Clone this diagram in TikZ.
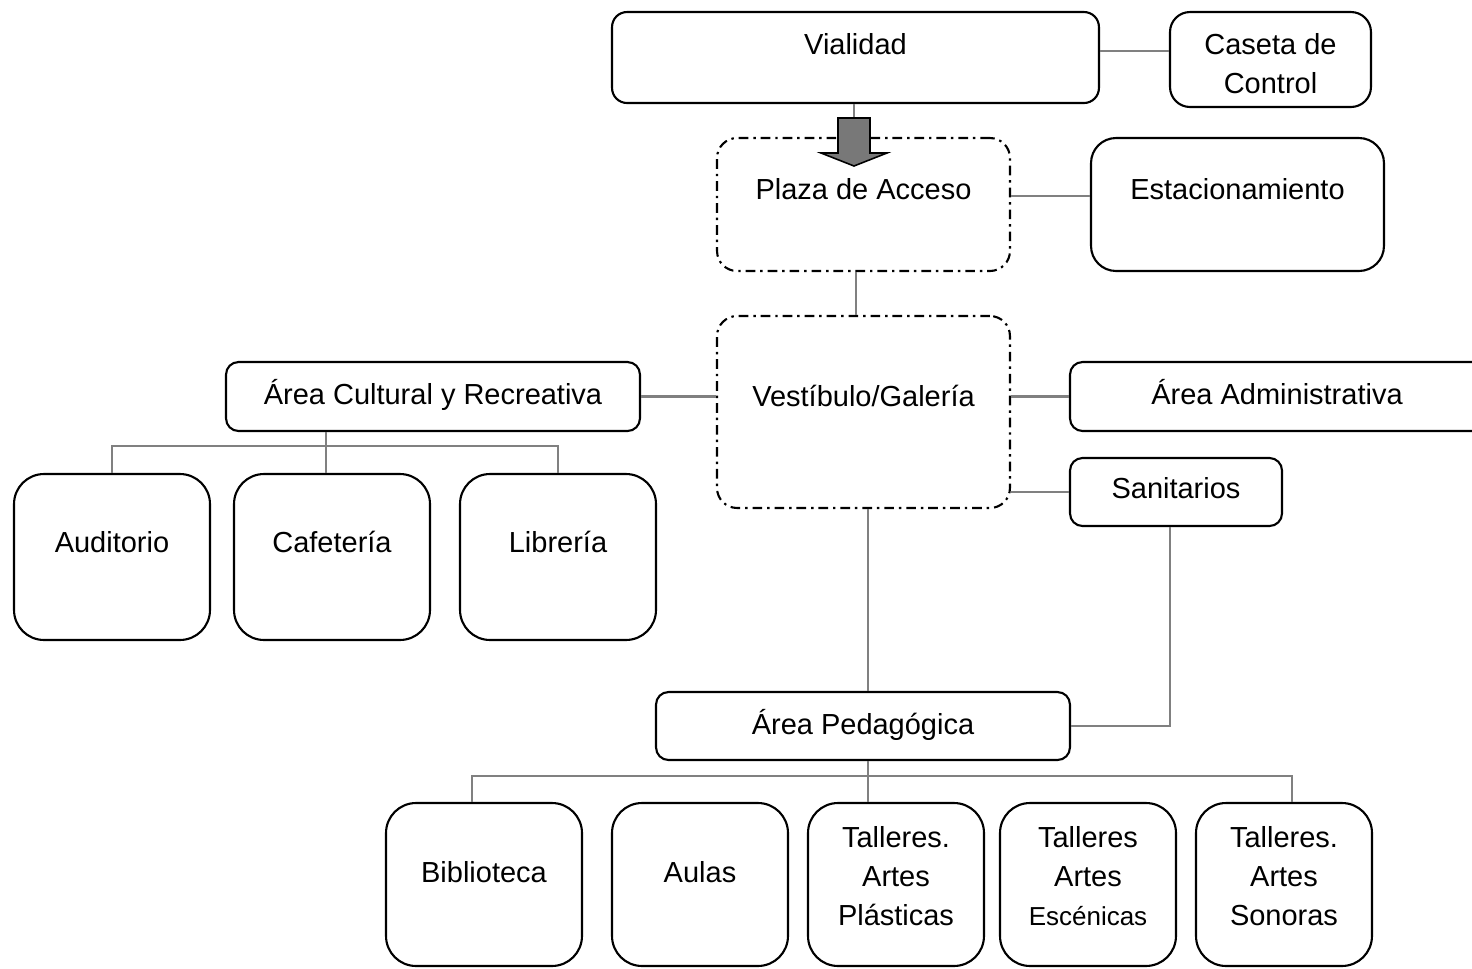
\documentclass[tikz,border=0pt]{standalone}
\usepackage{fontspec}
\setmainfont{Liberation Sans}
\usepackage{tikz}
\usetikzlibrary{calc}
\usepackage{xcolor}
\definecolor{linkgray}{RGB}{128,128,128}
\definecolor{arrowgray}{RGB}{120,120,120}
\newcommand{\padlow}{\rule[-9.8pt]{0pt}{9.8pt}}
\newcommand{\padhigh}{\rule{0pt}{16.3pt}}

\begin{document}
\begin{tikzpicture}[x=0.02cm,y=-0.02cm,
    font=\fontsize{16.5}{22}\selectfont,
    box/.style={draw,line width=1.2pt,rounded corners=#1,align=center,inner sep=2pt},
    zone/.style={box=#1,dash pattern=on 5.5pt off 2.8pt on 1.4pt off 2.8pt},
    lift/.style={text height=12pt,text depth=#1},
    link/.style={draw=linkgray,line width=1.2pt}]
    \useasboundingbox (0,0) rectangle (1472,968);
    \clip (0,0) rectangle (1472,968);
    % access row
    \node[box=0.3cm,lift=15.9pt,minimum width=9.74cm,minimum height=1.82cm] (via) at (855.5,57.5) {Vialidad};
    \node[box=0.4cm,minimum width=4.02cm,minimum height=1.9cm] (cas) at (1270.5,59.5) {\padhigh Caseta de\\Control};
    \node[zone=0.4cm,lift=18.2pt,minimum width=5.86cm,minimum height=2.66cm] (pla) at (863.5,204.5) {Plaza de Acceso};
    \node[box=0.5cm,lift=18.2pt,minimum width=5.86cm,minimum height=2.66cm] (est) at (1237.5,204.5) {Estacionamiento};
    % center
    \node[zone=0.4cm,lift=18.7pt,minimum width=5.86cm,minimum height=3.84cm] (ves) at (863.5,412) {Vestíbulo/Galería};
    \node[box=0.25cm,lift=3.4pt,minimum width=8.28cm,minimum height=1.38cm] (cul) at (433,396.5) {Área Cultural y Recreativa};
    \node[box=0.25cm,lift=3.4pt,minimum width=8.28cm,minimum height=1.38cm] (adm) at (1277,396.5) {Área Administrativa};
    \node[box=0.25cm,lift=5.1pt,minimum width=4.24cm,minimum height=1.36cm] (san) at (1176,492) {Sanitarios};
    % cultural area
    \node[box=0.6cm,lift=17.6pt,minimum width=3.92cm,minimum height=3.32cm] (aud) at (112,557) {Auditorio};
    \node[box=0.6cm,lift=17.6pt,minimum width=3.92cm,minimum height=3.32cm] (caf) at (332,557) {Cafetería};
    \node[box=0.6cm,lift=17.6pt,minimum width=3.92cm,minimum height=3.32cm] (lib) at (558,557) {Librería};
    % pedagogical area
    \node[box=0.25cm,lift=2.9pt,minimum width=8.28cm,minimum height=1.36cm] (ped) at (863,726) {Área Pedagógica};
    \node[box=0.6cm,lift=14.8pt,minimum width=3.92cm,minimum height=3.26cm] (bib) at (484,884.5) {Biblioteca};
    \node[box=0.6cm,lift=14.8pt,minimum width=3.52cm,minimum height=3.26cm] (aul) at (700,884.5) {Aulas};
    \node[box=0.6cm,minimum width=3.52cm,minimum height=3.26cm] (pls) at (896,884.5) {Talleres.\\Artes\\Plásticas\padlow};
    \node[box=0.6cm,minimum width=3.52cm,minimum height=3.26cm] (esc) at (1088,884.5) {Talleres\\Artes\\{\fontsize{14.8}{22}\selectfont Escénicas}\padlow};
    \node[box=0.6cm,minimum width=3.52cm,minimum height=3.26cm] (son) at (1284,884.5) {Talleres.\\Artes\\Sonoras\padlow};
    % links
    \coordinate (arrtop) at (854,118);
    \draw[link] (via.south -| arrtop) -- (arrtop);
    \draw[link] (via.east |- 0,51) -- (cas.west |- 0,51);
    \draw[link] (pla.east |- 0,196) -- (est.west |- 0,196);
    \draw[link] (pla.south -| 856,0) -- (ves.north -| 856,0);
    \draw[link] (cul.east) -- (ves.west |- cul.east);
    \draw[link] (ves.east |- adm.west) -- (adm.west);
    \draw[link] (ves.east |- san.west) -- (san.west);
    \coordinate (cj) at (326,446);
    \draw[link] (cul.south -| cj) -- (caf.north -| cj);
    \draw[link] (aud.north) |- (cj) -| (lib.north);
    \draw[link] (ves.south -| 868,0) -- (ped.north -| 868,0);
    \draw[link] (san.south -| 1170,0) |- (ped.east);
    \coordinate (pj) at (868,776);
    \draw[link] (ped.south -| pj) -- (pls.north -| pj);
    \draw[link] (bib.north -| 472,0) |- (pj) -| (son.north -| 1292,0);
    \draw[link] (aul.north -| 692,0) -- (aul.north -| 692,776);
    \draw[link] (esc.north -| 1092,0) -- (esc.north -| 1092,776);
    % entrance arrow
    \filldraw[fill=arrowgray,draw=black,line width=0.9pt] (arrtop) ++(-16,0) -- ++(32,0) -- ++(0,35) -- ++(17,0) -- (854,166) -- (821,153) -- ++(17,0) -- cycle;
\end{tikzpicture}
\end{document}
